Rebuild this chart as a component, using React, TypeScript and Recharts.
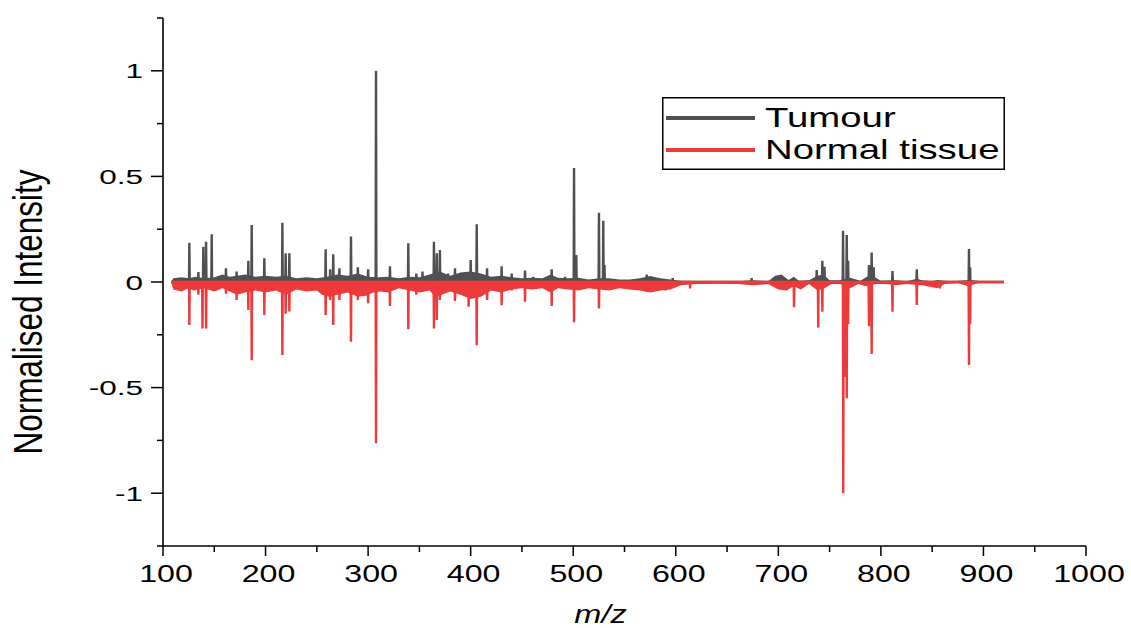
import React from 'react';
import {
  ComposedChart,
  Line,
  Area,
  XAxis,
  YAxis,
  Legend,
} from 'recharts';

const TUMOUR_COLOR = '#505050';
const NORMAL_COLOR = '#ee3a3a';
const SERIES_NAMES = ['Tumour', 'Normal tissue'];

const X_MAJOR = [100, 200, 300, 400, 500, 600, 700, 800, 900, 1000];
const X_MINOR = [150, 250, 350, 450, 550, 650, 750, 850, 950];
const Y_MAJOR = [-1, -0.5, 0, 0.5, 1];
const Y_MINOR = [-1.25, -0.75, -0.25, 0.25, 0.75, 1.25];

const MZ_START = 108;
const MZ_END = 920;

// tumour spectrum: distinct peaks (m/z, normalised intensity)
const TUMOUR_MZ = [
  125.7, 134.5, 139.3, 142, 147.5, 161.4, 171.8, 183.2, 186.5, 198.8,
  216.4, 219.6, 223.2, 258.6, 263, 266, 272, 283.3, 290, 300,
  307.7, 321.3, 339.2, 347, 353, 364.2, 367, 370, 378, 384.7,
  391, 400, 405.9, 416, 430.2, 440, 453, 461, 479, 492,
  500.8, 503, 525.1, 529.3, 530.5, 571.6, 597, 674, 737.4, 742.9,
  745, 763.1, 766.7, 768, 788.4, 791, 793, 811.3, 835, 885.9, 887,
];
const TUMOUR_INT = [
  0.186, 0.047, 0.167, 0.19, 0.226, 0.065, 0.05, 0.1, 0.27, 0.112,
  0.281, 0.136, 0.136, 0.155, 0.06, 0.131, 0.065, 0.215, 0.07, 0.06,
  1.0, 0.075, 0.183, 0.04, 0.05, 0.191, 0.136, 0.152, 0.04, 0.065,
  0.04, 0.104, 0.273, 0.065, 0.075, 0.04, 0.054, 0.025, 0.06, 0.025,
  0.54, 0.128, 0.328, 0.29, 0.08, 0.035, 0.018, 0.018, 0.057, 0.1,
  0.072, 0.243, 0.223, 0.1, 0.08, 0.14, 0.07, 0.052, 0.06, 0.156, 0.07,
];

// tumour low-level noise band
const TUMOUR_NOISE_MZ = [
  108, 110, 118, 125, 132, 140, 150, 158, 165, 172, 180, 190, 200, 210, 220,
  230, 240, 250, 260, 270, 280, 290, 300, 310, 320, 330, 340, 350, 360, 370,
  380, 390, 400, 410, 420, 430, 440, 450, 460, 470, 478, 485, 495, 505, 515,
  525, 535, 545, 555, 565, 575, 585, 595, 605, 620, 640, 660, 675, 690, 697,
  703, 710, 715, 720, 730, 738, 744, 750, 760, 770, 780, 788, 795, 800, 815,
  825, 835, 840, 850, 855, 862, 870, 883, 890, 900, 920,
];
const TUMOUR_NOISE = [
  0, 0.018, 0.022, 0.018, 0.025, 0.018, 0.022, 0.035, 0.025, 0.03, 0.035, 0.025, 0.03, 0.025, 0.03,
  0.018, 0.022, 0.018, 0.025, 0.035, 0.03, 0.04, 0.025, 0.022, 0.025, 0.018, 0.025, 0.022, 0.035, 0.05,
  0.03, 0.045, 0.05, 0.04, 0.025, 0.03, 0.022, 0.018, 0.02, 0.018, 0.035, 0.02, 0.018, 0.02, 0.012,
  0.018, 0.018, 0.012, 0.012, 0.018, 0.028, 0.018, 0.012, 0.006, 0.005, 0.004, 0.004, 0.008, 0.004, 0.03,
  0.035, 0.01, 0.025, 0.006, 0.008, 0.03, 0.035, 0.008, 0.008, 0.02, 0.006, 0.03, 0.02, 0.006, 0.008,
  0.004, 0.015, 0.008, 0.004, 0.01, 0.006, 0.003, 0.008, 0.008, 0.002, 0,
];

// normal tissue spectrum (plotted inverted)
const NORMAL_MZ = [
  125.7, 134.5, 138.5, 142, 152, 161.4, 171.8, 183.2, 186.5, 198.8,
  216.4, 219.6, 223.2, 258.6, 263, 266, 272, 283.3, 290, 300,
  307.7, 321.3, 339.2, 347, 353, 364.2, 367, 370, 384.7, 391,
  398, 405.9, 416, 430.2, 440, 453, 479, 500.8, 525.1, 571.6,
  590, 614, 705, 715.3, 738.9, 742.9, 763.3, 765, 766.7, 768,
  788.4, 791, 811.3, 835, 857.6, 885.9, 887,
];
const NORMAL_INT = [
  -0.204, -0.06, -0.22, -0.22, -0.04, -0.055, -0.085, -0.133, -0.37, -0.156,
  -0.346, -0.15, -0.14, -0.156, -0.085, -0.204, -0.085, -0.283, -0.085, -0.1,
  -0.763, -0.114, -0.224, -0.06, -0.045, -0.22, -0.18, -0.085, -0.09, -0.04,
  -0.117, -0.3, -0.085, -0.11, -0.04, -0.093, -0.114, -0.19, -0.125, -0.045,
  -0.04, -0.03, -0.035, -0.12, -0.216, -0.141, -1.0, -0.45, -0.551, -0.2,
  -0.21, -0.341, -0.141, -0.109, -0.03, -0.393, -0.2,
];

const NORMAL_NOISE_MZ = [
  108, 110, 118, 125, 130, 140, 150, 158, 165, 172, 180, 190, 200, 210, 220,
  230, 240, 250, 255, 262, 270, 280, 290, 298, 305, 312, 320, 330, 340, 350,
  360, 365, 372, 380, 390, 400, 410, 420, 430, 440, 450, 460, 470, 478, 485,
  495, 505, 515, 525, 535, 545, 555, 565, 575, 585, 595, 605, 620, 640, 660,
  675, 690, 700, 708, 715, 722, 730, 738, 745, 752, 760, 770, 778, 785, 795,
  805, 815, 825, 840, 855, 862, 875, 885, 895, 920,
];
const NORMAL_NOISE = [
  0, -0.035, -0.045, -0.03, -0.04, -0.03, -0.045, -0.03, -0.045, -0.06, -0.05, -0.04, -0.05, -0.04, -0.06,
  -0.035, -0.045, -0.04, -0.06, -0.07, -0.06, -0.05, -0.07, -0.065, -0.05, -0.045, -0.05, -0.03, -0.04, -0.05,
  -0.04, -0.07, -0.06, -0.045, -0.06, -0.08, -0.07, -0.04, -0.05, -0.035, -0.03, -0.035, -0.03, -0.05, -0.03,
  -0.035, -0.04, -0.03, -0.035, -0.04, -0.03, -0.035, -0.04, -0.05, -0.04, -0.035, -0.015, -0.01, -0.008, -0.01,
  -0.015, -0.01, -0.035, -0.04, -0.02, -0.035, -0.01, -0.04, -0.03, -0.01, -0.01, -0.03, -0.01, -0.02, -0.01,
  -0.01, -0.015, -0.01, -0.015, -0.03, -0.01, -0.005, -0.02, -0.005, 0,
];

// each peak becomes a narrow stick on the baseline
const toSticks = (mz: number[], vals: number[]) => {
  const pts: { mz: number; v: number }[] = [{ mz: MZ_START, v: 0 }];
  mz.forEach((m, i) => {
    pts.push({ mz: m - 0.35, v: 0 });
    pts.push({ mz: m, v: vals[i] });
    pts.push({ mz: m + 0.35, v: 0 });
  });
  pts.push({ mz: MZ_END, v: 0 });
  return pts.sort((a, b) => a.mz - b.mz);
};

const toRows = (mz: number[], vals: number[]) => mz.map((m, i) => ({ mz: m, v: vals[i] }));

const tumourSticks = toSticks(TUMOUR_MZ, TUMOUR_INT);
const normalSticks = toSticks(NORMAL_MZ, NORMAL_INT);
const tumourNoise = toRows(TUMOUR_NOISE_MZ, TUMOUR_NOISE);
const normalNoise = toRows(NORMAL_NOISE_MZ, NORMAL_NOISE);

const FONT = '"Liberation Sans", Arial, Helvetica, sans-serif';

const XTick = ({ x, y, payload }: any) => {
  const major = X_MAJOR.includes(payload.value);
  return (
    <g>
      <line x1={x} x2={x} y1={y} y2={y + (major ? 10 : 6)} stroke="#000" strokeWidth={1.5} />
      {major && (
        <text
          transform={`translate(${x + 3},${y + 36}) scale(1.37,1)`}
          textAnchor="middle"
          fontSize={23.5}
          fontFamily={FONT}
          fill="#000"
        >
          {payload.value}
        </text>
      )}
    </g>
  );
};

const YTick = ({ x, y, payload }: any) => {
  const major = Y_MAJOR.includes(payload.value);
  return (
    <g>
      <line x1={x - (major ? 12 : 6)} x2={x} y1={y} y2={y} stroke="#000" strokeWidth={1.5} />
      {major && (
        <text
          transform={`translate(${x - 20},${y + 7.5}) scale(1.5,1)`}
          textAnchor="end"
          fontSize={21}
          fontFamily={FONT}
          fill="#000"
        >
          {payload.value}
        </text>
      )}
    </g>
  );
};

const XLabel = ({ viewBox }: any) => (
  <text
    transform={`translate(${viewBox.x + viewBox.width / 2 - 24},${viewBox.y + 77}) scale(1.3,1)`}
    textAnchor="middle"
    fontSize={25}
    fontStyle="italic"
    fontFamily={FONT}
    fill="#000"
  >
    m/z
  </text>
);

const YLabel = ({ viewBox }: any) => (
  <text
    transform={`translate(${viewBox.x - 21},${viewBox.y + viewBox.height / 2 + 30}) rotate(-90) scale(1,1.28)`}
    textAnchor="middle"
    fontSize={31.5}
    fontFamily={FONT}
    fill="#000"
  >
    Normalised Intensity
  </text>
);

const BoxLegend = () => (
  <svg width={343} height={73}>
    <rect x={0.75} y={0.75} width={341.5} height={71.5} fill="#fff" stroke="#000" strokeWidth={1.5} />
    {[TUMOUR_COLOR, NORMAL_COLOR].map((c, i) => (
      <g key={c}>
        <line x1={4} x2={93} y1={21 + i * 32} y2={21 + i * 32} stroke={c} strokeWidth={4} />
        <text
          transform={`translate(103,${30 + i * 32}) scale(1.37,1)`}
          fontSize={28}
          fontFamily={FONT}
          fill="#000"
        >
          {SERIES_NAMES[i]}
        </text>
      </g>
    ))}
  </svg>
);

export default function App() {
  return (
    <div style={{ position: 'absolute', left: 0, top: 0, background: '#fff' }}>
      <ComposedChart
        width={1131}
        height={628}
        margin={{ top: 18, right: 45, bottom: 22, left: 63 }}
      >
        <XAxis
          dataKey="mz"
          type="number"
          domain={[100, 1000]}
          ticks={[...X_MAJOR, ...X_MINOR].sort((a, b) => a - b)}
          interval={0}
          tickSize={0}
          tickMargin={0}
          tickLine={false}
          tick={<XTick />}
          height={60}
          axisLine={{ stroke: '#000', strokeWidth: 1.6 }}
          allowDataOverflow
          label={{ content: <XLabel /> }}
        />
        <YAxis
          type="number"
          domain={[-1.25, 1.25]}
          ticks={[...Y_MAJOR, ...Y_MINOR].sort((a, b) => a - b)}
          interval={0}
          tickSize={0}
          tickMargin={0}
          tickLine={false}
          tick={<YTick />}
          width={100}
          axisLine={{ stroke: '#000', strokeWidth: 1.6 }}
          allowDataOverflow
          label={{ content: <YLabel /> }}
        />
        <Legend
          layout="horizontal"
          verticalAlign="middle"
          align="center"
          content={<BoxLegend />}
          wrapperStyle={{ left: 662, top: 97, width: 343, height: 73 }}
        />
        <Area
          data={tumourNoise}
          dataKey="v"
          type="linear"
          baseValue={0}
          stroke="none"
          fill={TUMOUR_COLOR}
          fillOpacity={1}
          isAnimationActive={false}
          legendType="none"
        />
        <Line
          data={tumourSticks}
          dataKey="v"
          name={SERIES_NAMES[0]}
          type="linear"
          stroke={TUMOUR_COLOR}
          strokeWidth={2.4}
          dot={false}
          isAnimationActive={false}
        />
        <Area
          data={normalNoise}
          dataKey="v"
          type="linear"
          baseValue={0}
          stroke="none"
          fill={NORMAL_COLOR}
          fillOpacity={1}
          isAnimationActive={false}
          legendType="none"
        />
        <Line
          data={normalSticks}
          dataKey="v"
          name={SERIES_NAMES[1]}
          type="linear"
          stroke={NORMAL_COLOR}
          strokeWidth={2.4}
          dot={false}
          isAnimationActive={false}
        />
      </ComposedChart>
    </div>
  );
}
